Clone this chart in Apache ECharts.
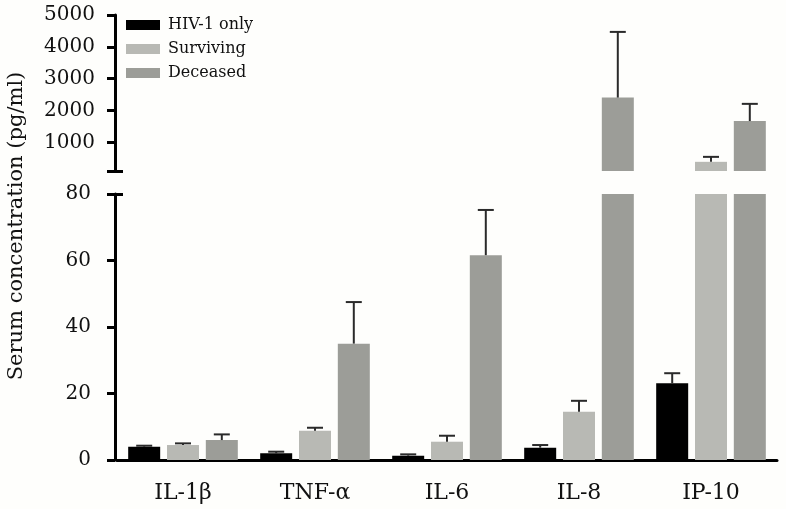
<!DOCTYPE html>
<html>
<head>
<meta charset="utf-8">
<script src="https://cdn.jsdelivr.net/npm/echarts@6/dist/echarts.min.js"></script>
<style>
html,body{margin:0;padding:0;background:#fefefc;}
#chart{width:786px;height:509px;}
</style>
</head>
<body>
<div id="chart"></div>
<script>
// ---- data ----
const categories = ['IL-1β', 'TNF-α', 'IL-6', 'IL-8', 'IP-10'];
const seriesNames = ['HIV-1 only', 'Surviving', 'Deceased'];
const hivOnly   = [4.0, 2.0, 1.3, 3.7, 23.1];
const hivOnlyErr = [0.3, 0.5, 0.4, 0.8, 3.0];
const surviving = [4.5, 8.8, 5.5, 14.5, 388];
const survivingErr = [0.5, 0.9, 1.8, 3.3, 156];
const deceased  = [6.0, 35.0, 61.6, 2406, 1669];
const deceasedErr = [1.7, 12.5, 13.6, 2063, 540];
const upperTicks = [1000, 2000, 3000, 4000, 5000];
const lowerTicks = [0, 20, 40, 60, 80];
const UPPER_MIN = 100, UPPER_MAX = 5000;
const LOWER_MIN = 0, LOWER_MAX = 80;

// ---- styling ----
const colors = ['#000000', '#b8b9b4', '#9c9d98'];
const FONT = 'DejaVu Serif';
const TXT = '#111111';
const BAR_W = 32, BAR_GAP = 6.8;
const BAR_STEP = BAR_W + BAR_GAP;

const values = [hivOnly, surviving, deceased];
const errs = [hivOnlyErr, survivingErr, deceasedErr];

const upperErrData = [], lowerErrData = [];
values.forEach((arr, s) => arr.forEach((m, c) => {
  const item = [c, s, m, errs[s][c]];
  if (m > UPPER_MIN) upperErrData.push(item);
  else if (m + errs[s][c] <= LOWER_MAX) lowerErrData.push(item);
}));

function errRender(params, api) {
  const c = api.value(0), s = api.value(1), m = api.value(2), e = api.value(3);
  const base = api.coord([c, m]);
  const top = api.coord([c, m + e]);
  const x = base[0] + (s - 1) * BAR_STEP;
  const st = { stroke: '#2a2a2a', lineWidth: 2 };
  return {
    type: 'group',
    children: [
      { type: 'line', shape: { x1: x, y1: base[1], x2: x, y2: top[1] }, style: st },
      { type: 'line', shape: { x1: x - 8, y1: top[1], x2: x + 8, y2: top[1] }, style: st }
    ]
  };
}

const axisLineStyle = { color: '#000', width: 3 };
const tickStyle = { width: 3, color: '#000' };
const gridLeft = 117, gridWidth = 660;
const plainNum = v => String(v);

const series = [];
seriesNames.forEach((name, s) => {
  series.push({
    name, type: 'bar', xAxisIndex: 0, yAxisIndex: 0,
    barWidth: BAR_W, barGap: (BAR_GAP / BAR_W * 100).toFixed(1) + '%',
    itemStyle: { color: colors[s] }, clip: true,
    data: values[s].map(v => v > UPPER_MIN ? v : null)
  });
});
seriesNames.forEach((name, s) => {
  series.push({
    name, type: 'bar', xAxisIndex: 1, yAxisIndex: 2,
    barWidth: BAR_W, barGap: (BAR_GAP / BAR_W * 100).toFixed(1) + '%',
    itemStyle: { color: colors[s] }, clip: true,
    data: values[s]
  });
});
series.push({
  type: 'custom', xAxisIndex: 0, yAxisIndex: 0, renderItem: errRender,
  encode: { x: 0, y: 2 }, data: upperErrData, z: 5, silent: true
});
series.push({
  type: 'custom', xAxisIndex: 1, yAxisIndex: 2, renderItem: errRender,
  encode: { x: 0, y: 2 }, data: lowerErrData, z: 5, silent: true
});

const option = {
  backgroundColor: '#fefefc',
  animation: false,
  textStyle: { fontFamily: FONT, color: TXT },
  legend: {
    orient: 'vertical', left: 121, top: 12,
    data: seriesNames, icon: 'rect',
    itemWidth: 34, itemHeight: 10, itemGap: 8,
    textStyle: { fontFamily: FONT, fontSize: 16, lineHeight: 16, color: TXT, padding: [0, 0, 0, 3] }
  },
  grid: [
    { left: gridLeft, width: gridWidth, top: 15, height: 156 },
    { left: gridLeft, width: gridWidth, top: 194, height: 266 }
  ],
  xAxis: [
    { type: 'category', gridIndex: 0, data: categories, show: false },
    {
      type: 'category', gridIndex: 1, data: categories,
      axisLine: { lineStyle: axisLineStyle },
      axisTick: { alignWithLabel: true, length: 9, lineStyle: tickStyle },
      axisLabel: { fontFamily: FONT, fontSize: 22, color: TXT, margin: 22 }
    }
  ],
  yAxis: [
    {
      type: 'value', gridIndex: 0, position: 'left', min: UPPER_MIN, max: UPPER_MAX, offset: 2,
      axisLine: { show: true, onZero: false, lineStyle: axisLineStyle },
      axisTick: { show: true, length: 8, lineStyle: tickStyle, customValues: [UPPER_MIN].concat(upperTicks) },
      axisLabel: { fontFamily: FONT, fontSize: 20, color: TXT, margin: 20, customValues: upperTicks, formatter: plainNum },
      splitLine: { show: false }
    },
    {
      type: 'value', gridIndex: 0, position: 'left', min: UPPER_MIN, max: UPPER_MAX, offset: 2,
      axisLine: { show: false },
      axisTick: { show: true, inside: true, length: 8, lineStyle: tickStyle, customValues: [UPPER_MIN] },
      axisLabel: { show: false },
      splitLine: { show: false }
    },
    {
      type: 'value', gridIndex: 1, position: 'left', min: LOWER_MIN, max: LOWER_MAX, offset: 2,
      axisLine: { show: true, onZero: false, lineStyle: axisLineStyle },
      axisTick: { show: true, length: 8, lineStyle: tickStyle, customValues: lowerTicks },
      axisLabel: { fontFamily: FONT, fontSize: 20, color: TXT, margin: 24, customValues: lowerTicks, formatter: plainNum },
      splitLine: { show: false }
    },
    {
      type: 'value', gridIndex: 1, position: 'left', min: LOWER_MIN, max: LOWER_MAX, offset: 2,
      axisLine: { show: false },
      axisTick: { show: true, inside: true, length: 8, lineStyle: tickStyle, customValues: [LOWER_MAX] },
      axisLabel: { show: false },
      splitLine: { show: false }
    }
  ],
  graphic: [{
    type: 'text', x: 17, y: 226, rotation: Math.PI / 2,
    style: {
      text: 'Serum concentration (pg/ml)', fontFamily: FONT, fontSize: 21,
      fill: TXT, align: 'center', verticalAlign: 'middle'
    }
  }],
  series
};

const chart = echarts.init(document.getElementById('chart'), null, { renderer: 'canvas' });
chart.setOption(option);
</script>
</body>
</html>
